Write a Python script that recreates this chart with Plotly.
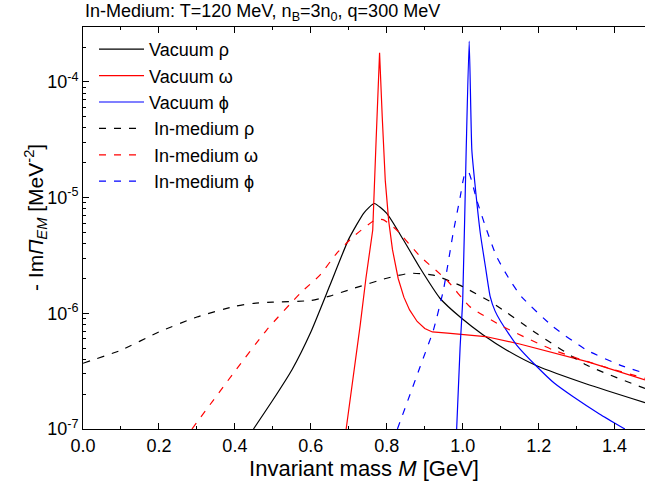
import plotly.graph_objects as go

# ---- data (M in GeV, -Im Pi_EM in MeV^-2) ----
vac_rho_x = [0.449, 0.5, 0.55, 0.6, 0.65, 0.7, 0.74, 0.767, 0.8, 0.844,
             0.888, 0.94, 0.997, 1.054, 1.116, 1.195, 1.326, 1.48]
vac_rho_y = [1.0e-7, 1.78e-7, 3.24e-7, 6.9e-7, 1.74e-6, 4.4e-6, 7.4e-6, 8.9e-6, 7.3e-6,
             4.3e-6, 2.45e-6, 1.35e-6, 9.05e-7, 6.5e-7, 4.8e-7, 3.52e-7, 2.45e-7, 1.69e-7]

vac_omega_x = [0.693, 0.71, 0.73, 0.745, 0.763, 0.772, 0.781, 0.788, 0.796, 0.805, 0.815, 0.83,
               0.845, 0.86, 0.88, 0.90, 0.92, 0.96, 1.0, 1.06, 1.15, 1.33, 1.48]
vac_omega_y = [1.0e-7, 2.5e-7, 7.9e-7, 2.0e-6, 5.25e-6, 3.2e-5, 1.79e-4, 5.0e-5, 1.41e-5, 6.3e-6,
               3.55e-6, 2.0e-6, 1.38e-6, 1.07e-6, 8.5e-7, 7.4e-7, 6.9e-7, 6.75e-7, 6.6e-7,
               6.3e-7, 5.43e-7, 3.8e-7, 2.66e-7]

vac_phi_x = [0.984, 0.993, 1.0, 1.009, 1.017, 1.024, 1.032, 1.046, 1.06, 1.072, 1.085, 1.1,
             1.142, 1.195, 1.24, 1.291, 1.36, 1.427]
vac_phi_y = [1.0e-7, 5.0e-7, 1.32e-6, 2.5e-5, 2.25e-4, 2.58e-5, 1.33e-5, 5.0e-6, 2.5e-6, 1.41e-6,
             1.05e-6, 8.5e-7, 5.32e-7, 3.47e-7, 2.51e-7, 1.9e-7, 1.35e-7, 1.0e-7]

med_rho_x = [0.0, 0.1, 0.2, 0.3, 0.4, 0.45, 0.5, 0.6, 0.65, 0.712, 0.8, 0.861, 0.923, 1.0,
             1.08, 1.195, 1.326, 1.48]
med_rho_y = [3.7e-7, 4.8e-7, 6.9e-7, 9.3e-7, 1.15e-6, 1.22e-6, 1.25e-6, 1.29e-6, 1.41e-6,
             1.64e-6, 2.01e-6, 2.22e-6, 2.14e-6, 1.7e-6, 1.22e-6, 6.7e-7, 3.57e-7, 2.24e-7]

med_omega_x = [0.287, 0.396, 0.484, 0.572, 0.624, 0.668, 0.712, 0.769, 0.79, 0.826, 0.888,
               0.958, 1.019, 1.107, 1.238, 1.37, 1.48]
med_omega_y = [1.0e-7, 3.03e-7, 7.2e-7, 1.49e-6, 2.14e-6, 3.3e-6, 4.6e-6, 6.4e-6, 6.45e-6,
               5.25e-6, 3.1e-6, 1.94e-6, 1.14e-6, 7.65e-7, 4.82e-7, 3.47e-7, 2.74e-7]

med_phi_x = [0.828, 0.888, 0.923, 0.949, 0.975, 0.993, 1.005, 1.015, 1.037, 1.063, 1.089,
             1.124, 1.155, 1.238, 1.326, 1.414, 1.48]
med_phi_y = [1.0e-7, 3.47e-7, 7.2e-7, 1.58e-6, 5.0e-6, 1.0e-5, 1.58e-5, 1.67e-5, 9.5e-6,
             5.25e-6, 3.1e-6, 1.94e-6, 1.39e-6, 7.65e-7, 4.82e-7, 3.57e-7, 3.03e-7]

x_ticks = [0.0, 0.2, 0.4, 0.6, 0.8, 1.0, 1.2, 1.4]
x_ticklabels = ["0.0", "0.2", "0.4", "0.6", "0.8", "1.0", "1.2", "1.4"]
y_ticks = [1e-7, 1e-6, 1e-5, 1e-4]
y_ticklabels = ["10<sup>-7</sup>", "10<sup>-6</sup>", "10<sup>-5</sup>", "10<sup>-4</sup>"]
y_minor = [m * 10.0 ** e for e in (-7, -6, -5, -4) for m in range(2, 10)]

FONT = "Liberation Sans, Arial, Helvetica, sans-serif"
DASH = "7px,8px"

series = [
    ("Vacuum ρ", vac_rho_x, vac_rho_y, "#000000", "solid", "spline"),
    ("Vacuum ω", vac_omega_x, vac_omega_y, "#ff0000", "solid", "linear"),
    ("Vacuum ϕ", vac_phi_x, vac_phi_y, "#0000ff", "solid", "spline"),
    ("\u00a0In-medium ρ", med_rho_x, med_rho_y, "#000000", DASH, "spline"),
    ("\u00a0In-medium ω", med_omega_x, med_omega_y, "#ff0000", DASH, "spline"),
    ("\u00a0In-medium ϕ", med_phi_x, med_phi_y, "#0000ff", DASH, "spline"),
]

fig = go.Figure()
for name, xs, ys, col, dash, shape in series:
    line = dict(color=col, width=1.2, dash=dash, shape=shape)
    if shape == "spline":
        line["smoothing"] = 0.5
    fig.add_trace(go.Scatter(x=xs, y=ys, mode="lines", name=name, line=line))

fig.update_layout(
    width=645, height=495,
    margin=dict(l=83, r=0, t=27, b=66, autoexpand=False),
    paper_bgcolor="white", plot_bgcolor="white",
    font=dict(family=FONT, color="black"),
    showlegend=True,
    legend=dict(x=0.0196, y=0.990, xanchor="left", yanchor="top",
                bgcolor="rgba(0,0,0,0)", font=dict(size=18, family=FONT),
                tracegroupgap=0, itemwidth=45),
    xaxis=dict(range=[0, 1.48], tickvals=x_ticks, ticktext=x_ticklabels,
               automargin=False,
               ticks="inside", ticklen=6, tickwidth=1, tickcolor="black",
               showline=True, linecolor="black", linewidth=1, mirror="ticks",
               showgrid=False, zeroline=False,
               tickfont=dict(size=18, family=FONT),
               minor=dict(dtick=0.1, tick0=0, ticks="inside", ticklen=3,
                          tickcolor="black", showgrid=False),
               title=dict(text="Invariant mass <i>M</i> [GeV]",
                          font=dict(size=22, family=FONT), standoff=2)),
    yaxis=dict(type="log", range=[-7, -3.525], tickvals=y_ticks, ticktext=y_ticklabels,
               automargin=False,
               ticks="inside", ticklen=6, tickwidth=1, tickcolor="black",
               showline=True, linecolor="black", linewidth=1,
               showgrid=False, zeroline=False,
               tickfont=dict(size=18, family=FONT),
               minor=dict(tickvals=y_minor, ticks="inside", ticklen=3,
                          tickcolor="black", showgrid=False)),
)

fig.add_annotation(
    text="- Im<i>Π</i><sub><i>EM</i></sub> [MeV<sup>-2</sup>]",
    xref="paper", yref="paper", x=0, y=0.5, xanchor="center", yanchor="middle",
    xshift=-48, yshift=10, textangle=-90, showarrow=False,
    font=dict(size=21, family=FONT, color="black"),
)

fig.add_annotation(
    text="In-Medium: T=120 MeV, n<sub>B</sub>=3n<sub>0</sub>, q=300 MeV",
    xref="paper", yref="paper", x=0, y=1, xanchor="left", yanchor="bottom",
    yshift=1, showarrow=False, font=dict(size=18, family=FONT, color="black"),
)

# remove the default 8px page margin so the figure sits at the window's corner
fig.write_html("out.html", config={"displayModeBar": False},
               post_script="document.body.style.margin='0';")
